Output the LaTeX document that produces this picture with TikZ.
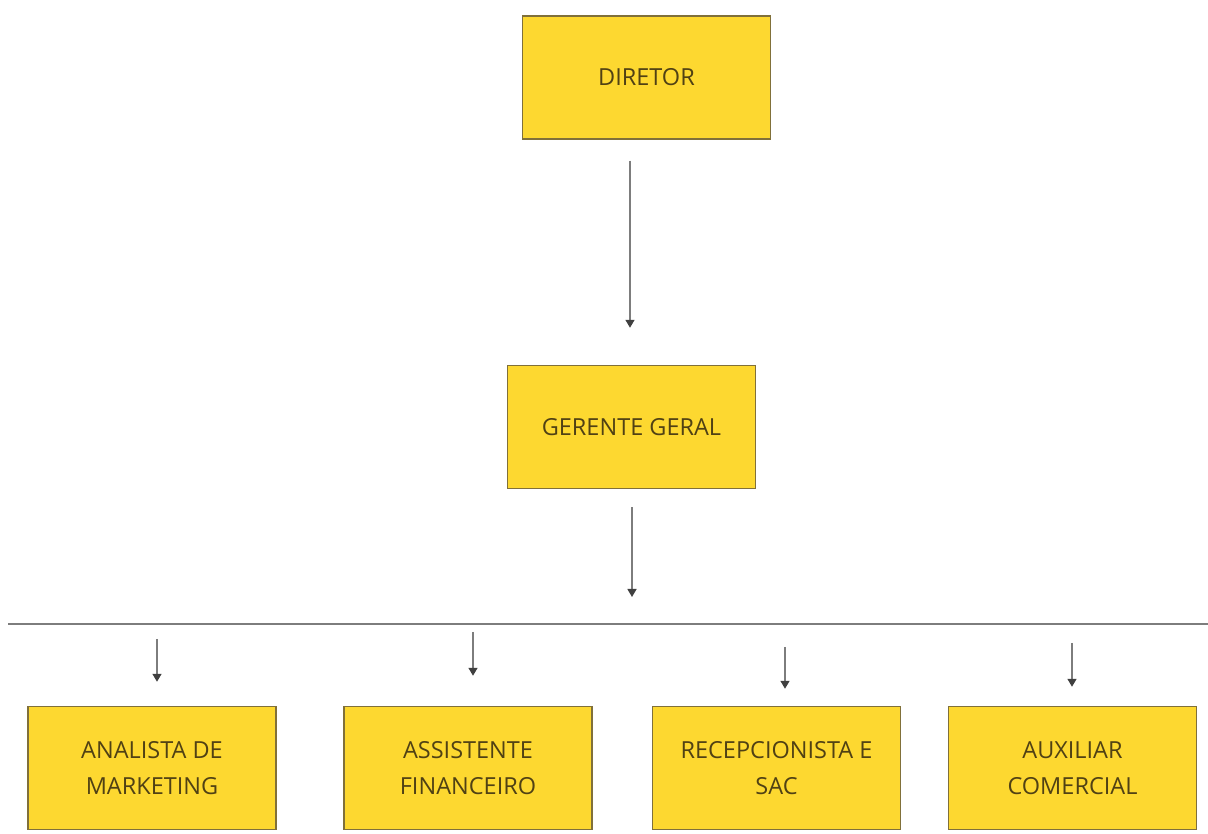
\documentclass[tikz,border=0pt]{standalone}
\usepackage{fontspec}
\setmainfont{Open Sans}
\usetikzlibrary{arrows.meta}
\definecolor{boxfill}{RGB}{253,216,48}
\definecolor{boxline}{RGB}{128,112,58}
\definecolor{boxtext}{RGB}{80,65,20}
\definecolor{arrowgray}{RGB}{125,125,125}
\begin{document}
\begin{tikzpicture}
		[x=1pt,y=1pt,
		 cargo/.style={draw=boxline,fill=boxfill,line width=1.4pt,minimum width=248pt,minimum height=123pt,
			align=center,text=boxtext,font=\fontsize{23.5}{36}\selectfont},
		 seta/.style={draw=arrowgray,line width=1.4pt,-{Triangle[width=9pt,length=8pt,color=black!75]}}]
		\useasboundingbox (0,0) rectangle (1208,834);

		% the boxes
		\node[cargo] (diretor) at (646.5,756.5) {DIRETOR};
		\node[cargo] (gerente) at (631.5,407) {GERENTE GERAL};
		\node[cargo] (analista) at (152,66) {ANALISTA DE\\MARKETING};
		\node[cargo] (assistente) at (468,66) {ASSISTENTE\\FINANCEIRO};
		\node[cargo] (recepcao) at (776.5,66) {RECEPCIONISTA E\\SAC};
		\node[cargo] (auxiliar) at (1072.5,66) {AUXILIAR\\COMERCIAL};

		% the horizontal bar
		\coordinate (barL) at (8,210);
		\coordinate (barR) at (1208,210);
		\draw[arrowgray,line width=1.4pt] (barL) -- (barR);

		% arrows down the middle
		\draw[seta,shorten <=21pt,shorten >=37pt] (diretor.south -| 630,0) -- (gerente.north -| 630,0);
		\coordinate (barM) at (632,210);
		\draw[seta,shorten <=18pt,shorten >=27pt] (gerente.south -| barM) -- (barM);

		% small arrows to the boxes
		\coordinate (s1) at (157,195);
		\coordinate (s2) at (473,202);
		\coordinate (s3) at (785,187);
		\coordinate (s4) at (1072,191);
		\draw[seta] (s1) -- ([yshift=24pt]s1 |- analista.north);
		\draw[seta] (s2) -- ([yshift=30pt]s2 |- assistente.north);
		\draw[seta] (s3) -- ([yshift=17pt]s3 |- recepcao.north);
		\draw[seta] (s4) -- ([yshift=19pt]s4 |- auxiliar.north);
	\end{tikzpicture}
\end{document}
